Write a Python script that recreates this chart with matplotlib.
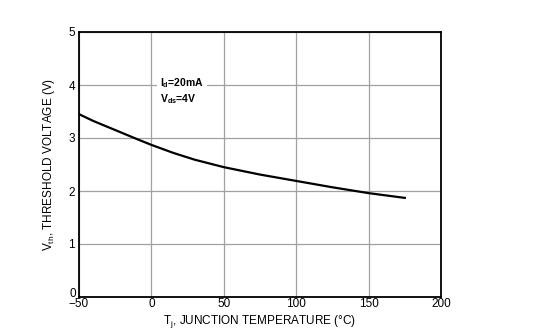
import matplotlib.pyplot as plt

plt.rcParams['font.family'] = ['Liberation Sans', 'DejaVu Sans']

# threshold voltage vs junction temperature
temp = [-50, -40, -25, -10, 0, 15, 30, 50, 75, 100, 125, 150, 175]
vth = [3.45, 3.32, 3.15, 2.98, 2.87, 2.72, 2.59, 2.45, 2.31, 2.19, 2.07, 1.96, 1.87]

xticks = [-50, 0, 50, 100, 150, 200]
yticks = [0, 1, 2, 3, 4, 5]

fig = plt.figure(figsize=(5.5, 3.34), dpi=100)
ax = fig.add_axes([79/550, 1 - 297/334, 362/550, 265/334])

ax.plot(temp, vth, color='black', linewidth=1.6, zorder=3)

ax.set_xlim(-50, 200)
ax.set_ylim(0, 5)
ax.set_xticks(xticks)
ax.set_yticks(yticks)
ax.set_xticklabels(['\u221250', '0', '50', '100', '150', '200'])
ax.set_yticklabels(['', '1', '2', '3', '4', '5'])
ax.tick_params(length=0, labelsize=8.5, pad=3)
ax.tick_params(axis='x', pad=1)
ax.grid(True, color='#a0a0a0', linewidth=0.9)
for s in ax.spines.values():
    s.set_linewidth(1.3)
    s.set_color('black')

# the "0" of the y axis sits a little above the -50
ax.text(-52, 0.06, '0', ha='right', va='center', fontsize=8.5)

ax.text(6, 3.88, '$\\mathregular{I_d}$=20mA\n$\\mathregular{V_{ds}}$=4V',
        fontsize=7.5, fontweight='bold', va='center', ha='left', linespacing=1.25,
        bbox=dict(facecolor='white', edgecolor='none', pad=2), zorder=4)

ax.set_xlabel('T$_\\mathregular{j}$, JUNCTION TEMPERATURE (\u00b0C)', fontsize=8.5, labelpad=2)
ax.set_ylabel('V$_\\mathregular{th}$, THRESHOLD VOLTAGE (V)', fontsize=8.5, labelpad=8)

fig.savefig('out.png', dpi=100)
